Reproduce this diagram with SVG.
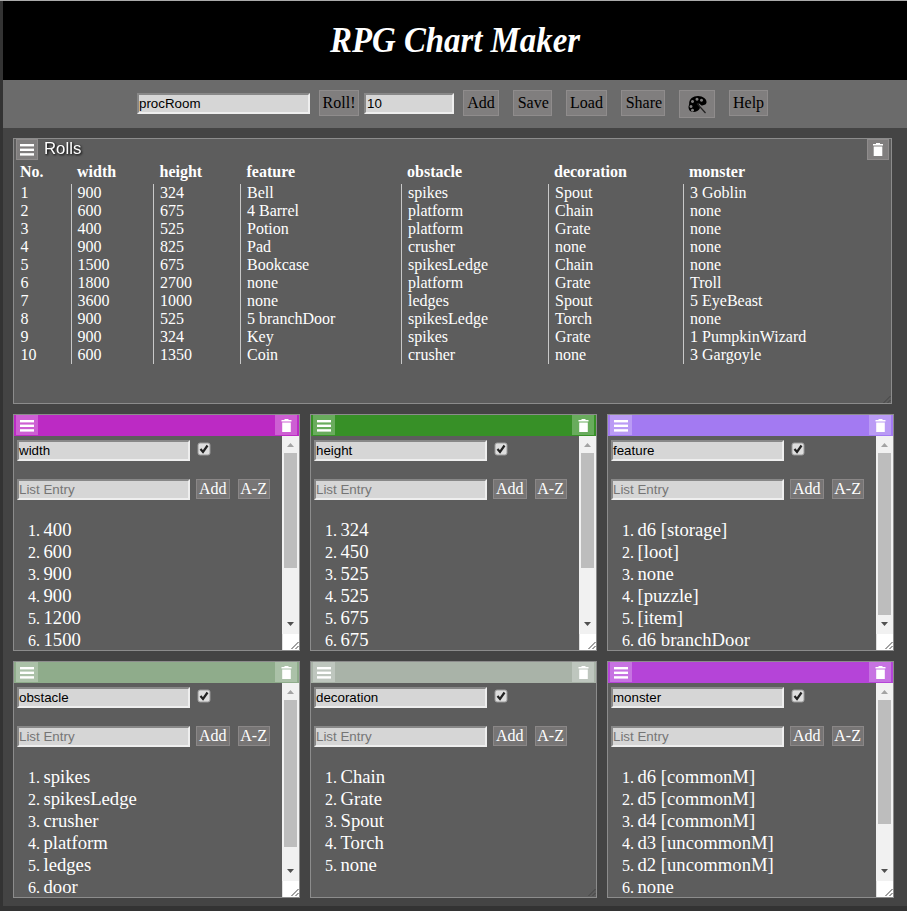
<svg xmlns="http://www.w3.org/2000/svg" width="907" height="911" viewBox="0 0 907 911">
<style>
.cell{font:16px "Liberation Serif","Times New Roman",serif;fill:#fff}
.th{font:bold 16px "Liberation Serif","Times New Roman",serif;fill:#fff}
.li{font:18.67px "Liberation Serif","Times New Roman",serif;fill:#fff}
.mk{font:16px "Liberation Serif","Times New Roman",serif;fill:#fff}
.inp{font:13.33px "Liberation Sans",Arial,sans-serif;fill:#000}
.ph{font:13.33px "Liberation Sans",Arial,sans-serif;fill:#757575}
.tb{font:16px "Liberation Serif","Times New Roman",serif;fill:#000}
.wb{font:16px "Liberation Serif","Times New Roman",serif;fill:#fff}
.btn{fill:#777575;stroke:#8a8787;stroke-width:1}
.tbtn{fill:#807e7e;stroke:#8f8c8c;stroke-width:1}
.panel{fill:#5d5d5d;stroke:#8c8c8c;stroke-width:1}
.ov{fill:#fff;fill-opacity:.25}
.sep{stroke:#c8c8c8;stroke-width:1}
</style>
<defs>
<g id="menu"><rect x="4" y="5" width="14" height="2.4" fill="#fff"/><rect x="4" y="9.6" width="14" height="2.4" fill="#fff"/><rect x="4" y="14.2" width="14" height="2.4" fill="#fff"/></g>
<g id="trash"><path d="M6 6.4V5h3V4h4v1h3v1.4zM6.7 7.6h8.6V17H6.700z" fill="#fff"/></g>
<g id="grip"><path d="M0 7L7 0M4 7L7 4" stroke="#444" stroke-width="1" fill="none"/></g>
<g id="input173"><rect x="0" y="0" width="173" height="21" fill="#eee"/><path d="M0 0H173L171 2H2V19L0 21z" fill="#888"/><rect x="2" y="2" width="169" height="17" fill="#d6d6d6"/></g>
<g id="cardbase">
<rect class="panel" x=".5" y=".5" width="286" height="236"/>
<use href="#input173" x="4" y="26"/>
<use href="#input173" x="4" y="65"/>
<text class="ph" x="6" y="80">List Entry</text>
<rect x="185" y="29" width="12" height="12" rx="2" fill="#dedede" stroke="#9a9a9a"/>
<path d="M187.500 35l2.500 3 4.500-6.500" fill="none" stroke="#222" stroke-width="2.200"/>
<rect class="btn" x="183.500" y="65.500" width="33" height="19"/>
<rect class="btn" x="225.500" y="65.500" width="31" height="19"/>
<text class="wb" x="186" y="80">Add</text>
<text class="wb" x="227.300" y="80">A-Z</text>
</g>
<g id="scroll">
<rect x="269" y="22" width="17" height="198" fill="#f1f1f1"/>
<path d="M277.500 29l3.500 4h-7z" fill="#a3a3a3"/>
<path d="M274 208h7l-3.500 4z" fill="#505050"/>
<rect x="270" y="220" width="16" height="16" fill="#fff"/>
<rect x="269" y="220" width="1" height="16" fill="#e0e0e0"/>
</g>
<clipPath id="cardclip"><rect x="1" y="22" width="285" height="214"/></clipPath>
</defs>

<rect width="907" height="911" fill="#444"/>
<rect x="0" y="0" width="3" height="911" fill="#333"/>
<rect x="0" y="906" width="907" height="5" fill="#333"/>
<rect x="0" y="0" width="907" height="1" fill="#aaa"/>

<g id="title">
<rect x="3" y="1" width="904" height="79" fill="#000"/>
<text x="330" y="52" textLength="250" lengthAdjust="spacingAndGlyphs" font-family="'Liberation Serif','Times New Roman',serif" font-size="36" font-weight="bold" font-style="italic" fill="#fff">RPG Chart Maker</text>
</g>

<g id="toolbar">
<rect x="3" y="80" width="904" height="48" fill="#6b6b6b"/>
<rect x="137" y="93" width="173" height="21" fill="#eee"/><path d="M137 93H310L308 95H139V112L137 114z" fill="#888"/><rect x="139" y="95" width="169" height="17" fill="#d6d6d6"/>
<text class="inp" x="139" y="108">procRoom</text>
<rect class="tbtn" x="319.500" y="90.500" width="39" height="25"/><text class="tb" x="322.600" y="108">Roll!</text>
<rect x="364" y="93" width="90" height="21" fill="#eee"/><path d="M364 93H454L452 95H366V112L364 114z" fill="#888"/><rect x="366" y="95" width="86" height="17" fill="#d6d6d6"/>
<text class="inp" x="367" y="108">10</text>
<rect class="tbtn" x="463.500" y="90.500" width="35" height="25"/><text class="tb" x="467.300" y="108">Add</text>
<rect class="tbtn" x="513.500" y="90.500" width="38" height="25"/><text class="tb" x="517.700" y="108">Save</text>
<rect class="tbtn" x="566.500" y="90.500" width="40" height="25"/><text class="tb" x="570" y="108">Load</text>
<rect class="tbtn" x="621.500" y="90.500" width="43" height="25"/><text class="tb" x="625.700" y="108">Share</text>
<rect class="tbtn" x="679.500" y="90.500" width="35" height="27"/>
<path fill-rule="evenodd" d="M698 96c5 0 9 3 8.500 6.500-.3 2.500-3 2.700-5 3l-3-2.500 1.500 5c-1 2.500-4 4-6.500 4-3 0-5-2-5-5 0-1 .7-2 .7-3.500C689 99 693 96 698 96zM697 97.800a1.500 1.500 0 1 0 .01 0zM701.500 98.800a1.500 1.500 0 1 0 .01 0zM692.500 100a1.500 1.500 0 1 0 .01 0zM691 105a1.500 1.500 0 1 0 .01 0zM692.500 108.800a1.500 1.500 0 1 0 .01 0z" fill="#000"/>
<path d="M697 103.500L705.500 113" stroke="#222" stroke-width="1.200" fill="none"/>
<rect class="tbtn" x="729.500" y="90.500" width="38" height="25"/><text class="tb" x="733" y="108">Help</text>
</g>

<g id="rolls">
<rect class="panel" x="13.500" y="138.500" width="878" height="265"/>
<rect class="tbtn" x="16.500" y="139.500" width="21" height="20"/>
<use href="#menu" x="16" y="139"/>
<text x="44" y="154" font-family="'Liberation Sans',Arial,sans-serif" font-size="16.800" fill="#fff" style="filter:drop-shadow(1px 1px 1px #000)">Rolls</text>
<rect class="tbtn" x="867.500" y="139.500" width="21" height="20"/>
<use href="#trash" x="867" y="139"/>
<use href="#grip" x="883.500" y="396"/>
<g id="rolls-head">
<text class="th" x="20" y="177">No.</text><text class="th" x="77" y="177">width</text><text class="th" x="159.500" y="177">height</text><text class="th" x="246.500" y="177">feature</text><text class="th" x="407" y="177">obstacle</text><text class="th" x="554" y="177">decoration</text><text class="th" x="689" y="177">monster</text>
</g>
<g id="rolls-sep">
<path class="sep" d="M71.500 184V364M153.500 184V364M240.500 184V364M401.500 184V364M548.500 184V364M683.500 184V364"/>
</g>
<g id="rolls-body">
<text class="cell" x="20.500" y="198">1</text><text class="cell" x="77.500" y="198">900</text><text class="cell" x="160" y="198">324</text><text class="cell" x="247" y="198">Bell</text><text class="cell" x="408" y="198">spikes</text><text class="cell" x="555" y="198">Spout</text><text class="cell" x="690" y="198">3 Goblin</text>
<text class="cell" x="20.500" y="216">2</text><text class="cell" x="77.500" y="216">600</text><text class="cell" x="160" y="216">675</text><text class="cell" x="247" y="216">4 Barrel</text><text class="cell" x="408" y="216">platform</text><text class="cell" x="555" y="216">Chain</text><text class="cell" x="690" y="216">none</text>
<text class="cell" x="20.500" y="234">3</text><text class="cell" x="77.500" y="234">400</text><text class="cell" x="160" y="234">525</text><text class="cell" x="247" y="234">Potion</text><text class="cell" x="408" y="234">platform</text><text class="cell" x="555" y="234">Grate</text><text class="cell" x="690" y="234">none</text>
<text class="cell" x="20.500" y="252">4</text><text class="cell" x="77.500" y="252">900</text><text class="cell" x="160" y="252">825</text><text class="cell" x="247" y="252">Pad</text><text class="cell" x="408" y="252">crusher</text><text class="cell" x="555" y="252">none</text><text class="cell" x="690" y="252">none</text>
<text class="cell" x="20.500" y="270">5</text><text class="cell" x="77.500" y="270">1500</text><text class="cell" x="160" y="270">675</text><text class="cell" x="247" y="270">Bookcase</text><text class="cell" x="408" y="270">spikesLedge</text><text class="cell" x="555" y="270">Chain</text><text class="cell" x="690" y="270">none</text>
<text class="cell" x="20.500" y="288">6</text><text class="cell" x="77.500" y="288">1800</text><text class="cell" x="160" y="288">2700</text><text class="cell" x="247" y="288">none</text><text class="cell" x="408" y="288">platform</text><text class="cell" x="555" y="288">Grate</text><text class="cell" x="690" y="288">Troll</text>
<text class="cell" x="20.500" y="306">7</text><text class="cell" x="77.500" y="306">3600</text><text class="cell" x="160" y="306">1000</text><text class="cell" x="247" y="306">none</text><text class="cell" x="408" y="306">ledges</text><text class="cell" x="555" y="306">Spout</text><text class="cell" x="690" y="306">5 EyeBeast</text>
<text class="cell" x="20.500" y="324">8</text><text class="cell" x="77.500" y="324">900</text><text class="cell" x="160" y="324">525</text><text class="cell" x="247" y="324">5 branchDoor</text><text class="cell" x="408" y="324">spikesLedge</text><text class="cell" x="555" y="324">Torch</text><text class="cell" x="690" y="324">none</text>
<text class="cell" x="20.500" y="342">9</text><text class="cell" x="77.500" y="342">900</text><text class="cell" x="160" y="342">324</text><text class="cell" x="247" y="342">Key</text><text class="cell" x="408" y="342">spikes</text><text class="cell" x="555" y="342">Grate</text><text class="cell" x="690" y="342">1 PumpkinWizard</text>
<text class="cell" x="20.500" y="360">10</text><text class="cell" x="77.500" y="360">600</text><text class="cell" x="160" y="360">1350</text><text class="cell" x="247" y="360">Coin</text><text class="cell" x="408" y="360">crusher</text><text class="cell" x="555" y="360">none</text><text class="cell" x="690" y="360">3 Gargoyle</text>
</g>
</g>

<g id="card-width" transform="translate(13 414)">
<use href="#cardbase"/>
<rect x="1" y="1" width="285" height="21" fill="#bc2ac4"/>
<rect class="ov" x="3" y="1" width="22" height="20"/><use href="#menu" x="3" y="1"/>
<rect class="ov" x="262" y="1" width="22" height="20"/><use href="#trash" x="262.500" y="1"/>
<use href="#scroll"/><rect x="271" y="39" width="13" height="115" fill="#bdbdbd"/><use href="#grip" x="278.500" y="228"/>
<text class="inp" x="6" y="41">width</text>
<g clip-path="url(#cardclip)">
<text class="mk" x="15" y="122">1.</text><text class="li" x="30.500" y="122">400</text>
<text class="mk" x="15" y="144">2.</text><text class="li" x="30.500" y="144">600</text>
<text class="mk" x="15" y="166">3.</text><text class="li" x="30.500" y="166">900</text>
<text class="mk" x="15" y="188">4.</text><text class="li" x="30.500" y="188">900</text>
<text class="mk" x="15" y="210">5.</text><text class="li" x="30.500" y="210">1200</text>
<text class="mk" x="15" y="232">6.</text><text class="li" x="30.500" y="232">1500</text>
</g>
</g>

<g id="card-height" transform="translate(310 414)">
<use href="#cardbase"/>
<rect x="1" y="1" width="285" height="21" fill="#379027"/>
<rect class="ov" x="3" y="1" width="22" height="20"/><use href="#menu" x="3" y="1"/>
<rect class="ov" x="262" y="1" width="22" height="20"/><use href="#trash" x="262.500" y="1"/>
<use href="#scroll"/><rect x="271" y="39" width="13" height="115" fill="#bdbdbd"/><use href="#grip" x="278.500" y="228"/>
<text class="inp" x="6" y="41">height</text>
<g clip-path="url(#cardclip)">
<text class="mk" x="15" y="122">1.</text><text class="li" x="30.500" y="122">324</text>
<text class="mk" x="15" y="144">2.</text><text class="li" x="30.500" y="144">450</text>
<text class="mk" x="15" y="166">3.</text><text class="li" x="30.500" y="166">525</text>
<text class="mk" x="15" y="188">4.</text><text class="li" x="30.500" y="188">525</text>
<text class="mk" x="15" y="210">5.</text><text class="li" x="30.500" y="210">675</text>
<text class="mk" x="15" y="232">6.</text><text class="li" x="30.500" y="232">675</text>
</g>
</g>

<g id="card-feature" transform="translate(607 414)">
<use href="#cardbase"/>
<rect x="1" y="1" width="285" height="21" fill="#a37af2"/>
<rect class="ov" x="3" y="1" width="22" height="20"/><use href="#menu" x="3" y="1"/>
<rect class="ov" x="262" y="1" width="22" height="20"/><use href="#trash" x="262.500" y="1"/>
<use href="#scroll"/><rect x="271" y="39" width="13" height="162" fill="#bdbdbd"/><use href="#grip" x="278.500" y="228"/>
<text class="inp" x="6" y="41">feature</text>
<g clip-path="url(#cardclip)">
<text class="mk" x="15" y="122">1.</text><text class="li" x="30.500" y="122">d6 [storage]</text>
<text class="mk" x="15" y="144">2.</text><text class="li" x="30.500" y="144">[loot]</text>
<text class="mk" x="15" y="166">3.</text><text class="li" x="30.500" y="166">none</text>
<text class="mk" x="15" y="188">4.</text><text class="li" x="30.500" y="188">[puzzle]</text>
<text class="mk" x="15" y="210">5.</text><text class="li" x="30.500" y="210">[item]</text>
<text class="mk" x="15" y="232">6.</text><text class="li" x="30.500" y="232">d6 branchDoor</text>
</g>
</g>

<g id="card-obstacle" transform="translate(13 661)">
<use href="#cardbase"/>
<rect x="1" y="1" width="285" height="21" fill="#8fac8b"/>
<rect class="ov" x="3" y="1" width="22" height="20"/><use href="#menu" x="3" y="1"/>
<rect class="ov" x="262" y="1" width="22" height="20"/><use href="#trash" x="262.500" y="1"/>
<use href="#scroll"/><rect x="271" y="39" width="13" height="147" fill="#bdbdbd"/><use href="#grip" x="278.500" y="228"/>
<text class="inp" x="6" y="41">obstacle</text>
<g clip-path="url(#cardclip)">
<text class="mk" x="15" y="122">1.</text><text class="li" x="30.500" y="122">spikes</text>
<text class="mk" x="15" y="144">2.</text><text class="li" x="30.500" y="144">spikesLedge</text>
<text class="mk" x="15" y="166">3.</text><text class="li" x="30.500" y="166">crusher</text>
<text class="mk" x="15" y="188">4.</text><text class="li" x="30.500" y="188">platform</text>
<text class="mk" x="15" y="210">5.</text><text class="li" x="30.500" y="210">ledges</text>
<text class="mk" x="15" y="232">6.</text><text class="li" x="30.500" y="232">door</text>
</g>
</g>

<g id="card-decoration" transform="translate(310 661)">
<use href="#cardbase"/>
<rect x="1" y="1" width="285" height="21" fill="#a9b3a8"/>
<rect class="ov" x="3" y="1" width="22" height="20"/><use href="#menu" x="3" y="1"/>
<rect class="ov" x="262" y="1" width="22" height="20"/><use href="#trash" x="262.500" y="1"/>
<use href="#grip" x="278.500" y="228"/>
<text class="inp" x="6" y="41">decoration</text>
<g clip-path="url(#cardclip)">
<text class="mk" x="15" y="122">1.</text><text class="li" x="30.500" y="122">Chain</text>
<text class="mk" x="15" y="144">2.</text><text class="li" x="30.500" y="144">Grate</text>
<text class="mk" x="15" y="166">3.</text><text class="li" x="30.500" y="166">Spout</text>
<text class="mk" x="15" y="188">4.</text><text class="li" x="30.500" y="188">Torch</text>
<text class="mk" x="15" y="210">5.</text><text class="li" x="30.500" y="210">none</text>
</g>
</g>

<g id="card-monster" transform="translate(607 661)">
<use href="#cardbase"/>
<rect x="1" y="1" width="285" height="21" fill="#b544d8"/>
<rect class="ov" x="3" y="1" width="22" height="20"/><use href="#menu" x="3" y="1"/>
<rect class="ov" x="262" y="1" width="22" height="20"/><use href="#trash" x="262.500" y="1"/>
<use href="#scroll"/><rect x="271" y="39" width="13" height="124" fill="#bdbdbd"/><use href="#grip" x="278.500" y="228"/>
<text class="inp" x="6" y="41">monster</text>
<g clip-path="url(#cardclip)">
<text class="mk" x="15" y="122">1.</text><text class="li" x="30.500" y="122">d6 [commonM]</text>
<text class="mk" x="15" y="144">2.</text><text class="li" x="30.500" y="144">d5 [commonM]</text>
<text class="mk" x="15" y="166">3.</text><text class="li" x="30.500" y="166">d4 [commonM]</text>
<text class="mk" x="15" y="188">4.</text><text class="li" x="30.500" y="188">d3 [uncommonM]</text>
<text class="mk" x="15" y="210">5.</text><text class="li" x="30.500" y="210">d2 [uncommonM]</text>
<text class="mk" x="15" y="232">6.</text><text class="li" x="30.500" y="232">none</text>
</g>
</g>
</svg>
